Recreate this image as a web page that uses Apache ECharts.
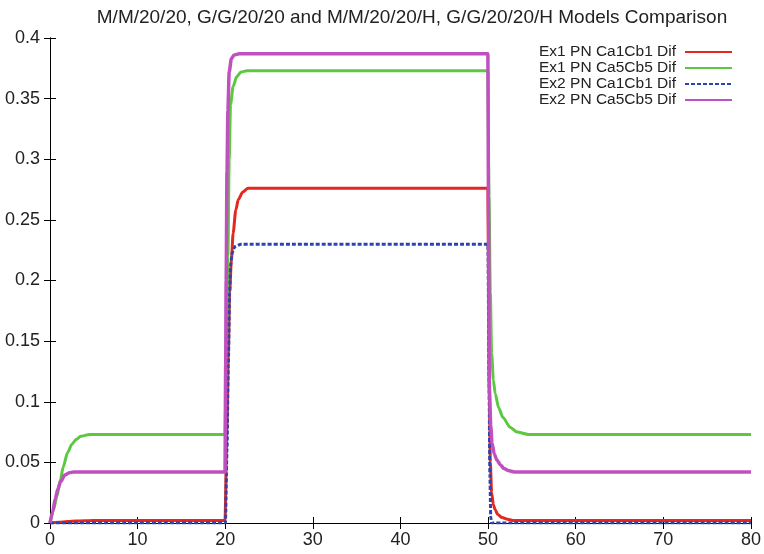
<!DOCTYPE html>
<html>
<head>
<meta charset="utf-8">
<script src="https://cdn.jsdelivr.net/npm/echarts@6/dist/echarts.min.js"></script>
<style>html,body{margin:0;padding:0;background:#fff}#c{width:764px;height:554px}</style>
</head>
<body>
<div id="c"></div>
<script>
var titleText = 'M/M/20/20, G/G/20/20 and M/M/20/20/H, G/G/20/20/H Models Comparison';
var seriesNames = ['Ex1 PN Ca1Cb1 Dif', 'Ex1 PN Ca5Cb5 Dif', 'Ex2 PN Ca1Cb1 Dif', 'Ex2 PN Ca5Cb5 Dif'];
var xTicks = [0, 10, 20, 30, 40, 50, 60, 70, 80];
var yTicks = [0, 0.05, 0.1, 0.15, 0.2, 0.25, 0.3, 0.35, 0.4];

// Ex1 PN Ca1Cb1 Dif (red)
var ex1c1T = [0, 1, 2, 3, 5, 10, 19.97, 20.2, 20.35, 20.5, 20.7, 20.9, 21.2, 21.5, 22, 22.6, 30, 49.97, 50.05, 50.15, 50.25, 50.4, 50.6, 50.8, 51.1, 51.6, 52.2, 53, 60, 80];
var ex1c1V = [0, 0.0006, 0.0012, 0.0016, 0.002, 0.002, 0.002, 0.08, 0.14, 0.19, 0.217, 0.239, 0.258, 0.267, 0.273, 0.276, 0.276, 0.276, 0.2, 0.1, 0.05, 0.025, 0.015, 0.011, 0.007, 0.0045, 0.003, 0.002, 0.002, 0.002];

// Ex1 PN Ca5Cb5 Dif (green)
var ex1c5T = [0, 0.4, 0.8, 1.2, 1.5, 2, 2.5, 3, 3.5, 4.5, 10, 19.97, 20.15, 20.3, 20.45, 20.6, 20.9, 21.3, 21.8, 22.5, 30, 49.97, 50.1, 50.25, 50.4, 50.6, 50.8, 51.2, 51.7, 52.5, 53.3, 54.6, 60, 80];
var ex1c5V = [0, 0.011, 0.022, 0.036, 0.046, 0.058, 0.065, 0.069, 0.0715, 0.073, 0.073, 0.073, 0.15, 0.22, 0.3, 0.345, 0.36, 0.368, 0.372, 0.373, 0.373, 0.373, 0.27, 0.19, 0.14, 0.118, 0.107, 0.095, 0.087, 0.079, 0.075, 0.073, 0.073, 0.073];

// Ex2 PN Ca1Cb1 Dif (blue dashed)
var ex2c1T = [0, 10, 20.02, 20.2, 20.35, 20.5, 20.6, 20.8, 21.1, 21.8, 30, 49.98, 50.1, 50.2, 50.3, 50.4, 60, 80];
var ex2c1V = [0, 0, 0, 0.06, 0.13, 0.19, 0.212, 0.223, 0.228, 0.23, 0.23, 0.23, 0.12, 0.04, 0.005, 0, 0, 0];

// Ex2 PN Ca5Cb5 Dif (magenta)
var ex2c5T = [0, 0.3, 0.6, 0.9, 1.2, 1.7, 2.2, 2.7, 10, 19.97, 20.05, 20.1, 20.2, 20.3, 20.45, 20.7, 21, 21.6, 30, 49.97, 50.05, 50.15, 50.3, 50.45, 50.7, 51, 51.4, 51.8, 52.4, 53.1, 60, 80];
var ex2c5V = [0, 0.009, 0.02, 0.028, 0.034, 0.0395, 0.0415, 0.042, 0.042, 0.042, 0.13, 0.2, 0.29, 0.34, 0.372, 0.383, 0.386, 0.387, 0.387, 0.387, 0.25, 0.11, 0.08, 0.066, 0.057, 0.052, 0.048, 0.045, 0.043, 0.042, 0.042, 0.042];

function pairs(t, v) { return t.map(function (x, i) { return [x, v[i]]; }); }

var FONT = 'Liberation Sans, Arial, sans-serif';
var chart = echarts.init(document.getElementById('c'), null, { renderer: 'canvas' });

function mkSeries(name, t, v, color, width, type) {
  return {
    name: name, type: 'line', data: pairs(t, v), symbol: 'none', showSymbol: false,
    smooth: 0.25, smoothMonotone: 'x', animation: false,
    lineStyle: { color: color, width: width, type: type || 'solid' },
    itemStyle: { color: color }
  };
}

var axisCommon = {
  axisLine: { show: true, lineStyle: { color: '#000', width: 1 } },
  axisTick: { show: true, inside: true, length: 6, lineStyle: { color: '#000', width: 1 } },
  splitLine: { show: false }
};

chart.setOption({
  animation: false,
  backgroundColor: '#fff',
  title: {
    text: titleText, left: 407, top: 3, textAlign: 'center',
    textStyle: { fontFamily: FONT, fontSize: 19, fontWeight: 'normal', color: '#222' }
  },
  legend: {
    orient: 'vertical', right: 31, top: 44, align: 'right', padding: 0,
    itemWidth: 47, itemHeight: 16, itemGap: 0,
    itemStyle: { opacity: 0 },
    textStyle: { fontFamily: FONT, fontSize: 15.5, lineHeight: 16, color: '#222', padding: [0, 4, 0, 0] },
    data: seriesNames
  },
  grid: { left: 50, right: 11, top: 38, bottom: 31, containLabel: false },
  xAxis: [
    Object.assign({ type: 'value', min: xTicks[0], max: xTicks[xTicks.length - 1], interval: 10,
      axisLabel: { fontFamily: FONT, fontSize: 18, color: '#222', margin: 8 } }, axisCommon),
    Object.assign({ type: 'value', position: 'top', min: xTicks[0], max: xTicks[xTicks.length - 1], interval: 10,
      axisLabel: { show: false } }, axisCommon)
  ],
  yAxis: [
    Object.assign({ type: 'value', min: yTicks[0], max: yTicks[yTicks.length - 1], interval: 0.05,
      axisLabel: { fontFamily: FONT, fontSize: 18, color: '#222', margin: 10 } }, axisCommon),
    Object.assign({ type: 'value', position: 'right', min: yTicks[0], max: yTicks[yTicks.length - 1], interval: 0.05,
      axisLabel: { show: false } }, axisCommon)
  ],
  series: [
    mkSeries(seriesNames[0], ex1c1T, ex1c1V, '#e3291f', 3),
    mkSeries(seriesNames[1], ex1c5T, ex1c5V, '#5cc83f', 3),
    mkSeries(seriesNames[2], ex2c1T, ex2c1V, '#2b44b0', 3, [4, 2]),
    mkSeries(seriesNames[3], ex2c5T, ex2c5V, '#c050c0', 3.5)
  ]
});
</script>
</body>
</html>
